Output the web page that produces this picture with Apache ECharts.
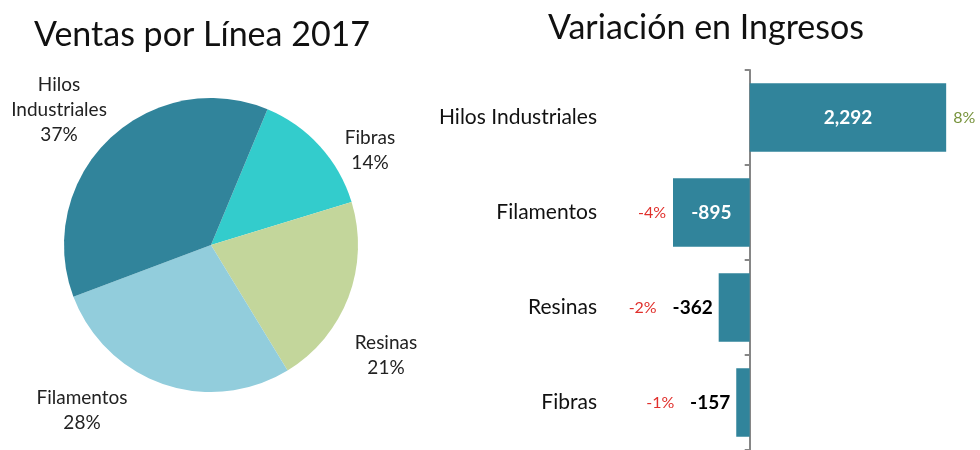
<!DOCTYPE html>
<html>
<head>
<meta charset="utf-8">
<script src="https://cdn.jsdelivr.net/npm/echarts@6/dist/echarts.min.js"></script>
<style>
html, body { margin: 0; padding: 0; background: #fff; }
#chart { width: 980px; height: 450px; }
</style>
</head>
<body>
<div id="chart"></div>
<script>
// pie: share of sales by line (clockwise from Fibras)
const pieNames = ['Fibras', 'Resinas', 'Filamentos', 'Hilos Industriales']
const pieShares = [14, 21, 28, 37]
const pieColors = ['#33CCCC', '#C3D69B', '#92CDDC', '#31849B']

// bars: revenue change by line
const lineas = ['Hilos Industriales', 'Filamentos', 'Resinas', 'Fibras']
const variacion = [2292, -895, -362, -157]
const variacionPct = [8, -4, -2, -1]

const font = 'Lato, "Open Sans", sans-serif'
const teal = '#31849B'

// where each pie label sits (label centres, Excel moved them by hand)
const pieLabelAt = [[370, 150], [386, 355], [82, 410], [59, 110]]

const fmt = v => v.toLocaleString('en-US')

const barData = variacion.map(v => {
  const inside = Math.abs(v) > 500
  return {
    value: v,
    label: inside
      ? { position: 'inside', color: '#fff' }
      : { position: v < 0 ? 'left' : 'right', distance: 6, color: '#000' }
  }
})

// percent labels sit further out than the value labels
const pctData = variacion.map((v, i) => {
  const inside = Math.abs(v) > 500
  return {
    value: v,
    label: {
      position: v < 0 ? 'left' : 'right',
      distance: inside || v > 0 ? 7 : 62,
      color: variacionPct[i] < 0 ? '#E0302C' : '#77933C'
    }
  }
})

const chart = echarts.init(document.getElementById('chart'), null, { renderer: 'canvas' })

const option = {
  animation: false,
  textStyle: { fontFamily: font },
  title: [
    {
      text: 'Ventas por Línea 2017',
      left: 197,
      top: 13,
      textAlign: 'center',
      textStyle: { fontFamily: font, fontSize: 34, fontWeight: 'normal', color: '#111' }
    },
    {
      text: 'Variación en Ingresos',
      left: 701,
      top: 6,
      textAlign: 'center',
      textStyle: { fontFamily: font, fontSize: 34, fontWeight: 'normal', color: '#111' }
    }
  ],
  grid: {
    left: 664,
    width: 300,
    top: 70,
    height: 382
  },
  xAxis: {
    type: 'value',
    min: -1000,
    max: 2500,
    show: false
  },
  yAxis: {
    type: 'category',
    data: lineas,
    inverse: true,
    axisLine: { onZero: true, lineStyle: { color: '#868686', width: 2 } },
    axisTick: { show: true, length: 5, lineStyle: { color: '#868686', width: 2 } },
    axisLabel: { margin: 67, fontSize: 21, color: '#111', fontFamily: font }
  },
  series: [
    {
      type: 'pie',
      center: [211, 245],
      radius: 147,
      startAngle: 67.4,
      clockwise: true,
      avoidLabelOverlap: false,
      silent: true,
      label: {
        position: 'outside',
        fontSize: 19,
        lineHeight: 25,
        color: '#222',
        fontFamily: font,
        formatter: p => p.name.replace(' ', '\n') + '\n' + p.value + '%'
      },
      labelLine: { show: false },
      labelLayout: p => ({
        x: pieLabelAt[p.dataIndex][0],
        y: pieLabelAt[p.dataIndex][1],
        align: 'center',
        verticalAlign: 'middle'
      }),
      data: pieNames.map((n, i) => ({
        name: n,
        value: pieShares[i],
        itemStyle: { color: pieColors[i] }
      }))
    },
    {
      type: 'bar',
      barWidth: '72%',
      itemStyle: { color: teal },
      label: {
        show: true,
        fontSize: 19,
        fontWeight: 'bold',
        fontFamily: font,
        formatter: p => fmt(p.value)
      },
      data: barData
    },
    {
      type: 'bar',
      barWidth: '72%',
      barGap: '-100%',
      silent: true,
      itemStyle: { color: 'transparent' },
      label: {
        show: true,
        fontSize: 16,
        fontFamily: font,
        formatter: p => variacionPct[p.dataIndex] + '%'
      },
      data: pctData
    }
  ]
}

chart.setOption(option)
</script>
</body>
</html>
